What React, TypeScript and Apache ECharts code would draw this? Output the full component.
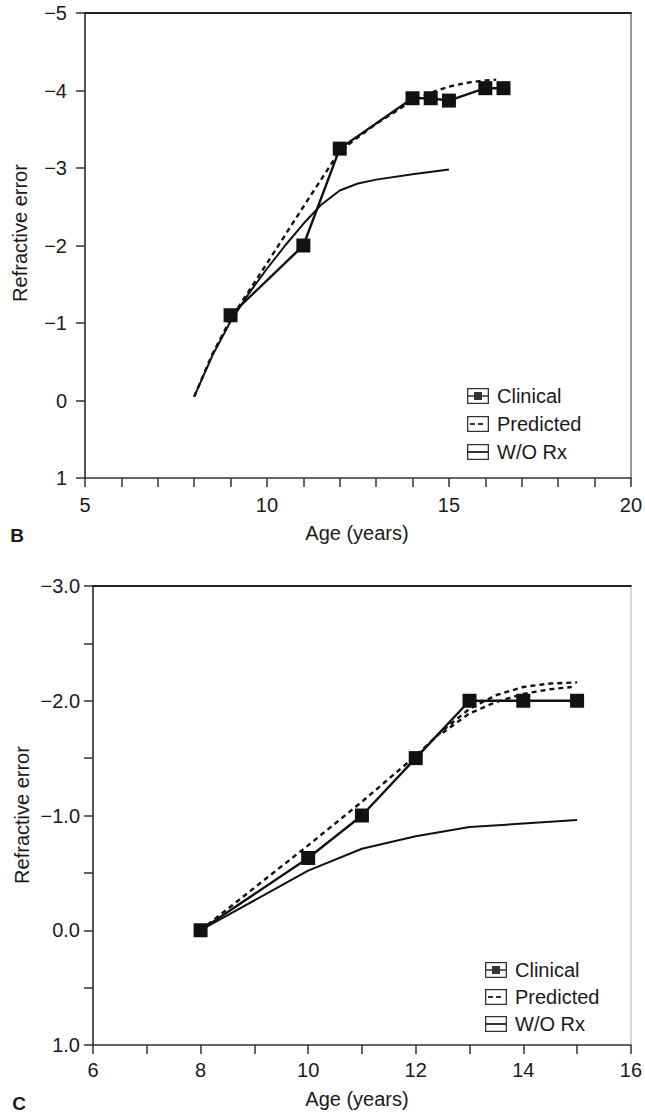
import React, { useEffect, useRef } from "react";
import * as echarts from "echarts";

// ---- Panel B data ----
const agesBClinical = [9, 11, 12, 14, 14.5, 15, 16, 16.5];
const clinicalB = [-1.1, -2.0, -3.25, -3.9, -3.9, -3.87, -4.03, -4.03];
const agesBPred = [8, 8.5, 9, 10, 11, 12, 13, 14, 14.5, 15, 15.5, 16, 16.3];
const predictedB = [-0.05, -0.6, -1.05, -1.77, -2.5, -3.22, -3.57, -3.87, -3.97, -4.05, -4.1, -4.13, -4.14];
const agesBWo = [8, 8.5, 9, 9.5, 10, 10.5, 11, 11.5, 12, 12.5, 13, 14, 15];
const woRxB = [-0.05, -0.58, -1.02, -1.38, -1.7, -2.0, -2.28, -2.53, -2.71, -2.8, -2.85, -2.92, -2.98];

// ---- Panel C data ----
const agesCClinical = [8, 10, 11, 12, 13, 14, 15];
const clinicalC = [0, -0.63, -1.0, -1.5, -2.0, -2.0, -2.0];
const agesCPred = [8, 10, 11, 12, 12.5, 13, 13.5, 14, 14.5, 15];
const predictedC = [0, -0.74, -1.12, -1.52, -1.74, -1.93, -2.05, -2.12, -2.15, -2.16];
const agesCPred2 = [12.5, 13, 13.5, 14, 14.5, 14.9];
const predictedC2 = [-1.72, -1.89, -1.99, -2.06, -2.1, -2.12];
const agesCWo = [8, 10, 11, 12, 13, 14, 15];
const woRxC = [0, -0.52, -0.71, -0.82, -0.9, -0.93, -0.96];

const legendNames = ["Clinical", "Predicted", "W/O Rx"];
const xTitle = "Age (years)";
const yTitle = "Refractive error";

const FONT = "'Liberation Sans', Arial, Helvetica, sans-serif";
const INK = "#1a1a1a";

const pairs = (xs: number[], ys: number[]) => xs.map((x, i) => [x, ys[i]]);

const frame = "M0,0H22V16H0Z M1.3,1.3V14.7H20.7V1.3Z";
const icons: Record<string, string> = {
  Clinical: "path://" + frame + " M1.3,7.2H20.7V8.8H1.3Z M7,4H15V12H7Z",
  Predicted: "path://" + frame + " M3,7H8V9H3Z M11,7H16V9H11Z",
  "W/O Rx": "path://" + frame + " M1.3,7H20.7V9H1.3Z",
};

const minus = (v: number) => (v < 0 ? "\u2212" : "");

export default function App() {
  const ref = useRef<HTMLDivElement>(null);
  useEffect(() => {
    if (!ref.current) return;
    const chart = echarts.init(ref.current, undefined, { renderer: "svg" });

    const axisLabelStyle = { color: INK, fontSize: 20, fontFamily: FONT };

    const mainX = (gridIndex: number, min: number, max: number, every: number, margin: number) => ({
      type: "value",
      gridIndex,
      min,
      max,
      interval: 1,
      axisLine: { show: true, onZero: false, lineStyle: { color: "#333", width: 1.6 } },
      axisTick: { show: true, length: 9, lineStyle: { color: "#333", width: 1.5 } },
      splitLine: { show: false },
      axisLabel: {
        ...axisLabelStyle,
        margin,
        formatter: (v: number) => (v % every === 0 ? String(v) : ""),
        showMinLabel: true,
        showMaxLabel: true,
      },
    });
    const decoX = (gridIndex: number, min: number, max: number) => ({
      type: "value",
      gridIndex,
      position: "top",
      min,
      max,
      axisLine: { show: true, onZero: false, lineStyle: { color: "#222", width: 1.8 } },
      axisTick: { show: false },
      axisLabel: { show: false },
      splitLine: { show: false },
    });
    const decoY = (gridIndex: number, min: number, max: number, color: string) => ({
      type: "value",
      gridIndex,
      position: "right",
      inverse: true,
      min,
      max,
      axisLine: { show: true, onZero: false, lineStyle: { color, width: 2 } },
      axisTick: { show: false },
      axisLabel: { show: false },
      splitLine: { show: false },
    });

    const lineSeries = (name: string, xi: number, yi: number, data: number[][], opts: any) => ({
      name,
      type: "line",
      xAxisIndex: xi,
      yAxisIndex: yi,
      data,
      silent: true,
      ...opts,
    });

    const clinicalOpts = {
      symbol: "rect",
      symbolSize: 14,
      itemStyle: { color: "#111" },
      lineStyle: { color: "#111", width: 2.4 },
      z: 5,
    };
    const predOpts = {
      symbol: "none",
      smooth: false,
      lineStyle: { color: "#111", width: 2.4, type: [5, 4] },
      itemStyle: { color: "#111" },
      z: 3,
    };
    const woOpts = {
      symbol: "none",
      smooth: false,
      lineStyle: { color: "#111", width: 2 },
      itemStyle: { color: "#111" },
      z: 4,
    };

    const legend = (left: number, top: number, gap: number) => ({
      orient: "vertical",
      left,
      top,
      itemWidth: 22,
      itemHeight: 16,
      itemGap: gap,
      selectedMode: false,
      itemStyle: { color: "#333" },
      textStyle: { color: INK, fontSize: 20, fontFamily: FONT, padding: [0, 0, 0, 3] },
      data: legendNames.map((n) => ({ name: n, icon: icons[n] })),
    });

    const title = (text: string, x: number, y: number, rot = 0, bold = false, size = 20) => ({
      type: "text",
      x,
      y,
      rotation: rot,
      style: {
        text,
        fill: INK,
        font: `${bold ? "bold " : ""}${size}px ${FONT}`,
        textAlign: "center",
        textVerticalAlign: "middle",
      },
    });

    chart.setOption({
      animation: false,
      backgroundColor: "#ffffff",
      grid: [
        { left: 85, top: 13, width: 547, height: 465, show: false },
        { left: 93, top: 586, width: 538, height: 459, show: false },
      ],
      xAxis: [
        mainX(0, 5, 20, 5, 17),
        decoX(0, 5, 20),
        mainX(1, 6, 16, 2, 15),
        decoX(1, 6, 16),
      ],
      yAxis: [
        {
          type: "value",
          gridIndex: 0,
          inverse: true,
          min: -5,
          max: 1,
          interval: 1,
          axisLine: { show: true, onZero: false, lineStyle: { color: "#555", width: 2 } },
          axisTick: { show: true, length: 9, lineStyle: { color: "#333", width: 1.5 } },
          splitLine: { show: false },
          axisLabel: {
            ...axisLabelStyle,
            margin: 18,
            formatter: (v: number) => minus(v) + String(Math.abs(v)),
          },
        },
        decoY(0, -5, 1, "#9a9a9a"),
        {
          type: "value",
          gridIndex: 1,
          inverse: true,
          min: -3,
          max: 1,
          interval: 0.5,
          axisLine: { show: true, onZero: false, lineStyle: { color: "#555", width: 2 } },
          axisTick: { show: true, length: 9, lineStyle: { color: "#333", width: 1.5 } },
          splitLine: { show: false },
          axisLabel: {
            ...axisLabelStyle,
            margin: 13,
            formatter: (v: number) =>
              Math.abs(v % 1) > 1e-9 ? "" : minus(v) + Math.abs(v).toFixed(1),
          },
        },
        decoY(1, -3, 1, "#d8d8d8"),
      ],
      legend: [legend(462, 381, 8), legend(480, 955, 7)],
      series: [
        lineSeries("W/O Rx", 0, 0, pairs(agesBWo, woRxB), woOpts),
        lineSeries("Predicted", 0, 0, pairs(agesBPred, predictedB), predOpts),
        lineSeries("Clinical", 0, 0, pairs(agesBClinical, clinicalB), clinicalOpts),
        lineSeries("W/O Rx", 2, 2, pairs(agesCWo, woRxC), woOpts),
        lineSeries("Predicted", 2, 2, pairs(agesCPred, predictedC), predOpts),
        lineSeries("Predicted", 2, 2, pairs(agesCPred2, predictedC2), predOpts),
        lineSeries("Clinical", 2, 2, pairs(agesCClinical, clinicalC), clinicalOpts),
      ],
      graphic: [
        title(yTitle, 20, 233, Math.PI / 2),
        title(xTitle, 357, 533),
        title("B", 17, 535, 0, true, 19),
        title(yTitle, 22, 815, Math.PI / 2),
        title(xTitle, 357, 1099),
        title("C", 19, 1103, 0, true, 19),
      ],
    });

    return () => chart.dispose();
  }, []);

  return (
    <div
      ref={ref}
      style={{ position: "absolute", left: 0, top: 0, width: 645, height: 1115, background: "#fff" }}
    />
  );
}
